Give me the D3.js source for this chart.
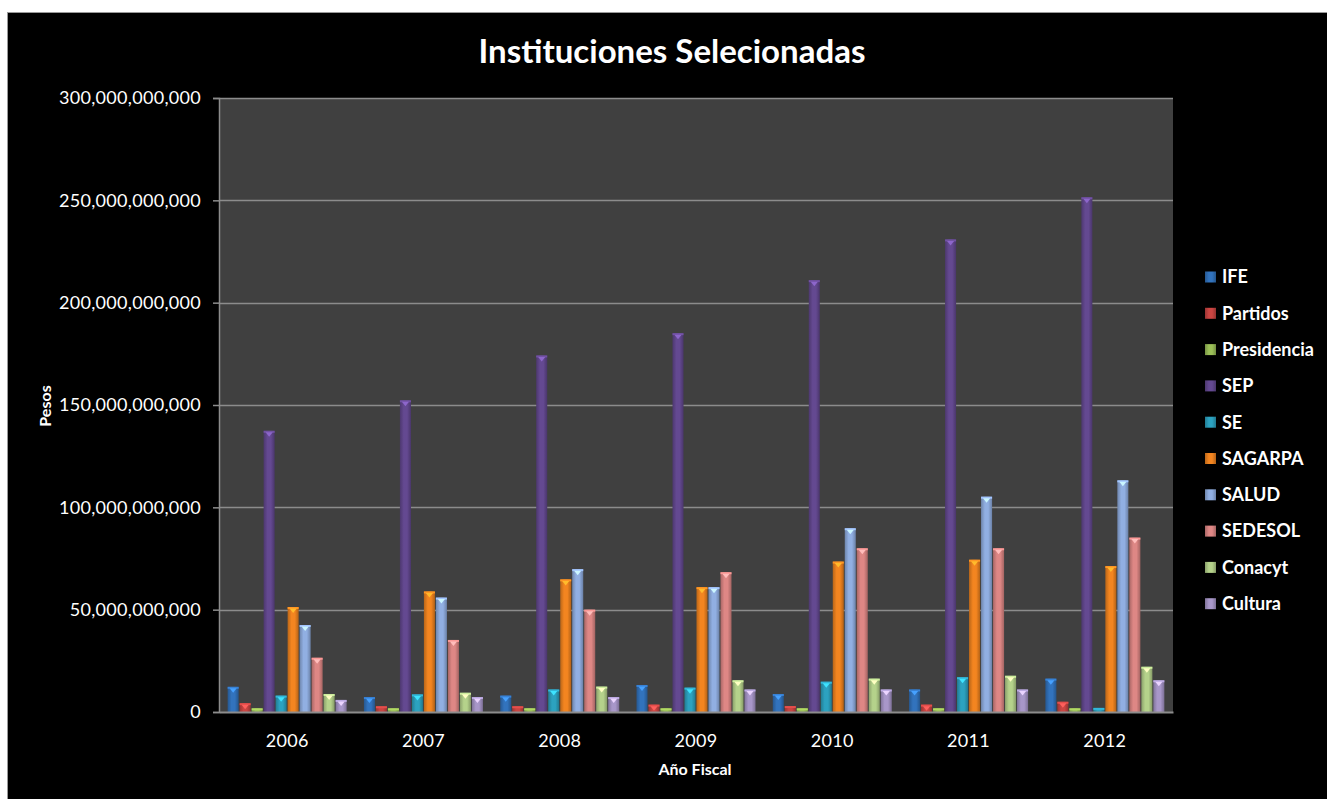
<!DOCTYPE html>
<html>
<head>
<meta charset="utf-8">
<script src="https://cdn.jsdelivr.net/npm/d3@7"></script>
<style>
  html, body { margin: 0; padding: 0; background: #ffffff; }
  svg { display: block; }
  text { font-family: Lato, "Open Sans", sans-serif; fill: #ffffff; }
</style>
</head>
<body>
<svg id="chart" width="1327" height="799"></svg>
<script>
const years = ["2006", "2007", "2008", "2009", "2010", "2011", "2012"];
const seriesNames = ["IFE", "Partidos", "Presidencia", "SEP", "SE", "SAGARPA", "SALUD", "SEDESOL", "Conacyt", "Cultura"];
const seriesColors = ["#2f6db3", "#c0413f", "#94b653", "#5f4589", "#2a9ab6", "#e67e1e", "#89a6d6", "#d2807e", "#acc784", "#9f8fbf"];

// values in pesos (billions)
const IFE        = [12.3, 7.3, 8.0, 13.2, 8.8, 11.0, 16.3];
const Partidos   = [4.3, 2.8, 2.8, 3.6, 2.9, 3.6, 5.0];
const Presidencia= [1.8, 1.8, 1.8, 1.8, 1.8, 1.8, 1.8];
const SEP        = [137.4, 152.3, 174.2, 185.1, 211.0, 230.9, 251.5];
const SE         = [8.0, 8.6, 11.0, 11.9, 14.8, 17.0, 2.0];
const SAGARPA    = [51.3, 58.9, 64.8, 61.0, 73.5, 74.4, 71.3];
const SALUD      = [42.5, 55.9, 69.8, 61.0, 89.8, 105.2, 113.2];
const SEDESOL    = [26.5, 35.2, 50.0, 68.3, 80.0, 80.0, 85.2];
const Conacyt    = [8.8, 9.4, 12.4, 15.5, 16.3, 17.7, 22.1];
const Cultura    = [5.9, 7.3, 7.3, 11.0, 11.0, 11.0, 15.5];
const yTicks = [0, 50e9, 100e9, 150e9, 200e9, 250e9, 300e9];

const seriesValues = [IFE, Partidos, Presidencia, SEP, SE, SAGARPA, SALUD, SEDESOL, Conacyt, Cultura];
const B = 1e9;

const svg = d3.select("#chart");
const W = 1327, H = 799;

// background: white margin with black chart area
svg.append("rect").attr("x", 0).attr("y", 0).attr("width", W).attr("height", H).attr("fill", "#ffffff");
svg.append("rect").attr("x", 7.5).attr("y", 12.5).attr("width", W).attr("height", H)
  .attr("fill", "#000000").attr("stroke", "#9a9a9a").attr("stroke-width", 1);

const plot = { left: 219, right: 1173, top: 98, bottom: 712 };

const x = d3.scaleBand().domain(years).range([plot.left, plot.right]).paddingInner(0).paddingOuter(0);
const xInner = d3.scaleBand().domain(seriesNames).range([0, x.bandwidth()]).paddingInner(0.08).paddingOuter(0.72);
const y = d3.scaleLinear().domain([0, 300e9]).range([plot.bottom, plot.top]);

// gradients
const defs = svg.append("defs");
seriesNames.forEach((s, i) => {
  const c = d3.color(seriesColors[i]);
  const g = defs.append("linearGradient").attr("id", "g" + i).attr("x1", "0").attr("x2", "1").attr("y1", "0").attr("y2", "0");
  g.append("stop").attr("offset", "0%").attr("stop-color", c.darker(0.6));
  g.append("stop").attr("offset", "35%").attr("stop-color", c.brighter(0.15));
  g.append("stop").attr("offset", "65%").attr("stop-color", c.brighter(0.15));
  g.append("stop").attr("offset", "100%").attr("stop-color", c.darker(0.7));
});

// plot background
svg.append("rect").attr("x", plot.left).attr("y", plot.top)
  .attr("width", plot.right - plot.left).attr("height", plot.bottom - plot.top)
  .attr("fill", "#404040");

// gridlines
svg.append("g").selectAll("line").data(yTicks.filter(t => t > 0)).join("line")
  .attr("x1", plot.left).attr("x2", plot.right)
  .attr("y1", d => Math.round(y(d)) + 0.5).attr("y2", d => Math.round(y(d)) + 0.5)
  .attr("stroke", "#8c8c8c").attr("stroke-width", 1.5);

// y axis
const yAxis = d3.axisLeft(y).tickValues(yTicks).tickSize(6).tickPadding(12)
  .tickFormat(d => d3.format(",")(d));
const yg = svg.append("g").attr("transform", `translate(${plot.left},0)`).call(yAxis);
yg.select(".domain").attr("stroke", "#8c8c8c").attr("stroke-width", 1.5);
yg.selectAll(".tick line").attr("stroke", "#8c8c8c").attr("stroke-width", 1.5);
yg.selectAll(".tick text").style("font-family", "Lato, sans-serif").style("font-size", "18px")
  .style("letter-spacing", "0.3px").attr("fill", "#ffffff");

// bars
const groups = svg.append("g").selectAll("g").data(years).join("g")
  .attr("transform", d => `translate(${x(d)},0)`);

groups.each(function(yr, yi) {
  const g = d3.select(this);
  const data = seriesNames.map((s, si) => ({ s, si, v: seriesValues[si][yi] * B }));
  g.selectAll("rect.bar").data(data).join("rect").attr("class", "bar")
    .attr("x", d => xInner(d.s))
    .attr("y", d => y(d.v))
    .attr("width", xInner.bandwidth())
    .attr("height", d => y(0) - y(d.v))
    .attr("fill", d => `url(#g${d.si})`);
  g.selectAll("rect.cap").data(data).join("rect").attr("class", "cap")
    .attr("x", d => xInner(d.s))
    .attr("y", d => y(d.v))
    .attr("width", xInner.bandwidth())
    .attr("height", d => Math.min(2, y(0) - y(d.v)))
    .attr("fill", d => d3.color(seriesColors[d.si]).brighter(0.5));
  g.selectAll("path.tri").data(data.filter(d => y(0) - y(d.v) > 6)).join("path").attr("class", "tri")
    .attr("d", d => {
      const x0 = xInner(d.s), w = xInner.bandwidth(), t = y(d.v);
      return `M${x0 + 2},${t + 1.5}L${x0 + w - 2},${t + 1.5}L${x0 + w / 2},${t + 6}Z`;
    })
    .attr("fill", d => d3.color(seriesColors[d.si]).brighter(1.1));
});

// x axis
const xAxis = d3.axisBottom(x).tickSize(0).tickPadding(22);
const xg = svg.append("g").attr("transform", `translate(0,${plot.bottom})`).call(xAxis);
xg.select(".domain").attr("stroke", "#8c8c8c").attr("stroke-width", 2);
xg.selectAll(".tick text").style("font-family", "Lato, sans-serif").style("font-size", "18px")
  .style("letter-spacing", "0.3px").attr("fill", "#ffffff");

// title
svg.append("text").attr("x", 672).attr("y", 63).attr("text-anchor", "middle")
  .style("font-size", "33px").style("font-weight", "700").text("Instituciones Selecionadas");

// axis titles
svg.append("text").attr("x", 695).attr("y", 775).attr("text-anchor", "middle")
  .style("font-size", "16px").style("font-weight", "700").text("Año Fiscal");
svg.append("text").attr("transform", "translate(51,406) rotate(-90)").attr("text-anchor", "middle")
  .style("font-size", "16px").style("font-weight", "700").text("Pesos");

// legend
const legend = svg.append("g").selectAll("g").data(seriesNames).join("g")
  .attr("transform", (d, i) => `translate(1205,${277 + i * 36.3})`);
legend.append("rect").attr("x", 0).attr("y", -5.5).attr("width", 11).attr("height", 11)
  .attr("fill", (d, i) => `url(#g${i})`);
legend.append("text").attr("x", 17).attr("y", 0).attr("dy", "0.35em")
  .style("font-size", "18px").style("font-weight", "700").text(d => d);
</script>
</body>
</html>
